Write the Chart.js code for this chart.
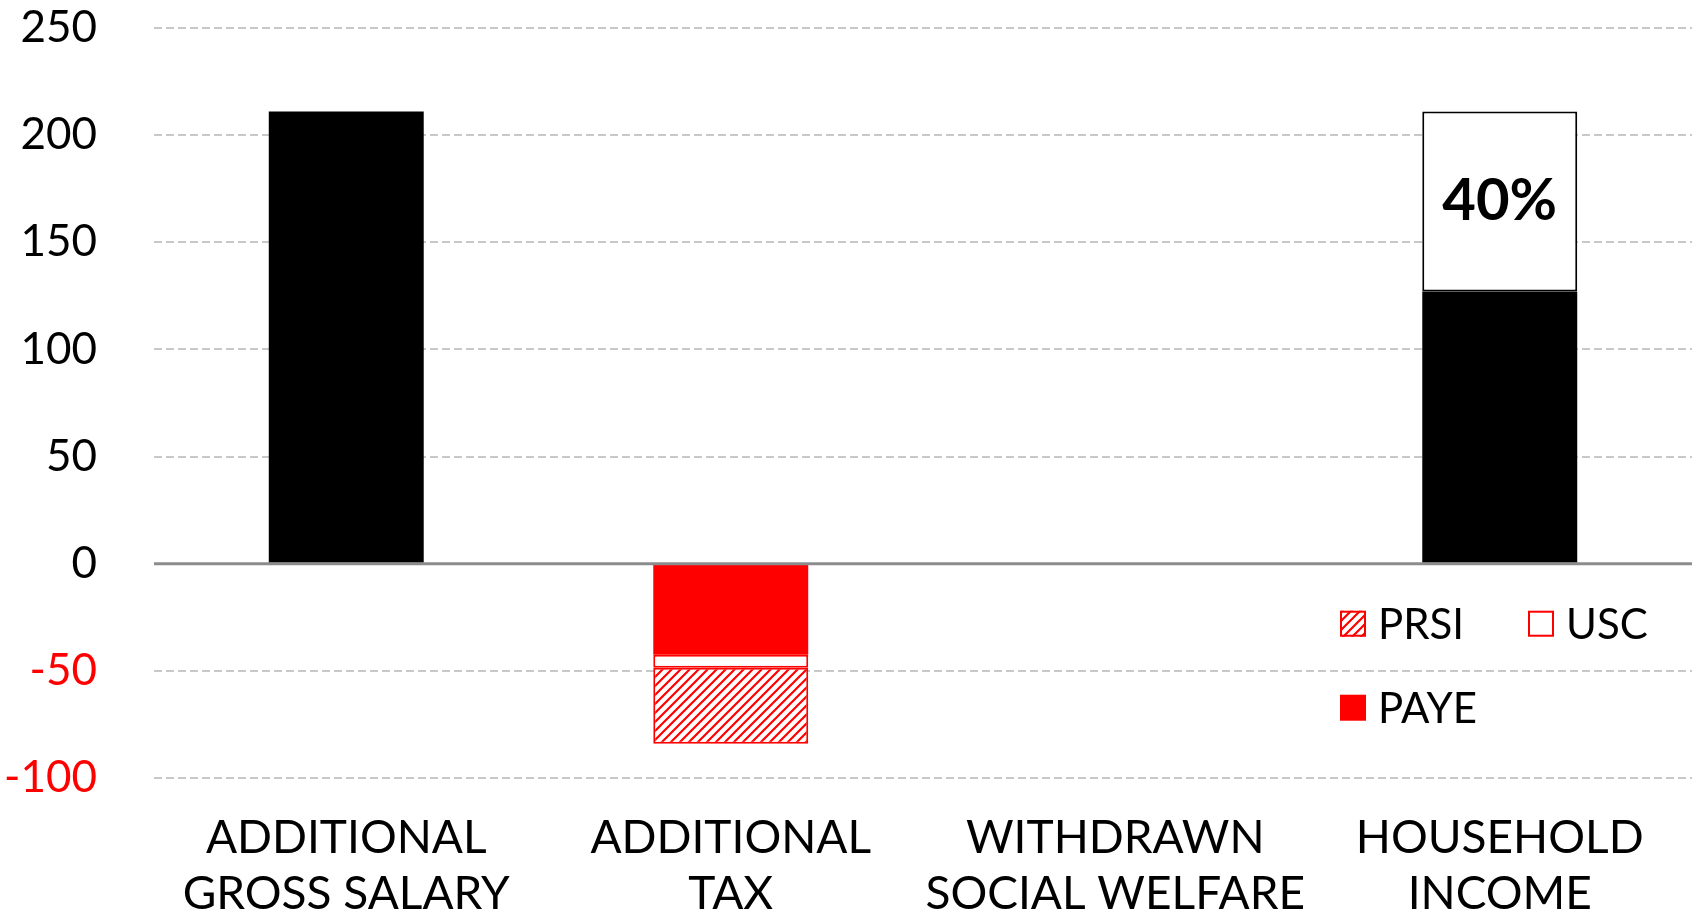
<!DOCTYPE html>
<html>
<head>
<meta charset="utf-8">
<script src="https://cdn.jsdelivr.net/npm/chart.js@4.4.0/dist/chart.umd.min.js"></script>
<style>
  html, body { margin: 0; padding: 0; background: #ffffff; }
  #wrap { width: 1696px; height: 914px; }
</style>
</head>
<body>
<div id="wrap"><canvas id="c" width="1696" height="914"></canvas></div>
<script>
// ---- data ----
const categories = [
  ['ADDITIONAL', 'GROSS SALARY'],
  ['ADDITIONAL', 'TAX'],
  ['WITHDRAWN', 'SOCIAL WELFARE'],
  ['HOUSEHOLD', 'INCOME']
];
const incomeValues   = [211, null, null, 127];   // gross salary / net household income
const taxShareValues = [null, null, null, 84];   // part of gross lost to tax
const payeValues     = [null, -42.5, null, null];
const uscValues      = [null, -6, null, null];
const prsiValues     = [null, -35.5, null, null];
const yTicks = { min: -100, max: 250, step: 50 };

const FONT = 'Lato, "Open Sans", sans-serif';
const RED = '#ff0000';

function makeHatch() {
  const s = 9;
  const p = document.createElement('canvas');
  p.width = s; p.height = s;
  const g = p.getContext('2d');
  g.fillStyle = '#ffffff';
  g.fillRect(0, 0, s, s);
  g.strokeStyle = RED;
  g.lineWidth = 2.2;
  g.beginPath();
  g.moveTo(-1, s + 1); g.lineTo(s + 1, -1);
  g.moveTo(-1, 1); g.lineTo(1, -1);
  g.moveTo(s - 1, s + 1); g.lineTo(s + 1, s - 1);
  g.stroke();
  return document.getElementById('c').getContext('2d').createPattern(p, 'repeat');
}
const hatch = makeHatch();

const zeroLinePlugin = {
  id: 'zeroLine',
  afterDatasetsDraw(chart) {
    const y = chart.scales.y.getPixelForValue(0);
    const ca = chart.chartArea;
    const ctx = chart.ctx;
    ctx.save();
    ctx.strokeStyle = '#8c8c8c';
    ctx.lineWidth = 3;
    ctx.beginPath();
    ctx.moveTo(ca.left, y);
    ctx.lineTo(ca.right, y);
    ctx.stroke();
    ctx.restore();
  }
};

const shareLabelPlugin = {
  id: 'shareLabel',
  afterDatasetsDraw(chart) {
    const idx = 3;
    const meta = chart.getDatasetMeta(1);
    const el = meta.data[idx];
    if (!el) return;
    const pct = Math.round(taxShareValues[idx] / (taxShareValues[idx] + incomeValues[idx]) * 100);
    const ctx = chart.ctx;
    ctx.save();
    ctx.fillStyle = '#000';
    ctx.font = 'bold 58px ' + FONT;
    ctx.textAlign = 'center';
    ctx.textBaseline = 'middle';
    ctx.fillText(pct + '%', el.x, (el.y + el.base) / 2);
    ctx.restore();
  }
};

const legendPlugin = {
  id: 'customLegend',
  afterDraw(chart) {
    const ca = chart.chartArea;
    const zeroY = chart.scales.y.getPixelForValue(0);
    const ctx = chart.ctx;
    const items = [
      { ds: 4, col: 0, row: 0 },
      { ds: 3, col: 1, row: 0 },
      { ds: 2, col: 0, row: 1 }
    ];
    const x0 = ca.right - 352;
    const colW = 188;
    const rowY = [zeroY + 60, zeroY + 144];
    const box = 26;
    ctx.save();
    ctx.font = '42px ' + FONT;
    ctx.textBaseline = 'middle';
    ctx.textAlign = 'left';
    items.forEach(it => {
      const d = chart.data.datasets[it.ds];
      const x = x0 + it.col * colW;
      const y = rowY[it.row];
      ctx.fillStyle = d.backgroundColor;
      ctx.fillRect(x, y - box / 2, box, box);
      if (d.borderWidth) {
        ctx.strokeStyle = d.borderColor;
        ctx.lineWidth = 2;
        ctx.strokeRect(x + 1, y - box / 2 + 1, box - 2, box - 2);
      }
      ctx.fillStyle = '#000';
      ctx.fillText(d.label, x + box + 12, y + 2);
    });
    ctx.restore();
  }
};

new Chart(document.getElementById('c'), {
  type: 'bar',
  data: {
    labels: categories,
    datasets: [
      { label: 'Income', data: incomeValues, backgroundColor: '#000000', borderWidth: 0 },
      { label: 'Tax share', data: taxShareValues, backgroundColor: '#ffffff', borderColor: '#000000', borderWidth: 2 },
      { label: 'PAYE', data: payeValues, backgroundColor: RED, borderWidth: 0 },
      { label: 'USC', data: uscValues, backgroundColor: '#ffffff', borderColor: RED, borderWidth: 2 },
      { label: 'PRSI', data: prsiValues, backgroundColor: hatch, borderColor: RED, borderWidth: 2 }
    ]
  },
  options: {
    responsive: false,
    animation: false,
    devicePixelRatio: 1,
    layout: { padding: { top: 28, right: 4, bottom: 0, left: 0 } },
    datasets: { bar: { barPercentage: 0.403, categoryPercentage: 1, borderSkipped: false } },
    plugins: { legend: { display: false }, tooltip: { enabled: false } },
    scales: {
      x: {
        stacked: true,
        grid: { display: false },
        border: { display: false },
        ticks: { color: '#000', font: { family: FONT, size: 46, lineHeight: 1.2 }, padding: 25, maxRotation: 0, autoSkip: false },
        afterFit(s) { s.height = 136; }
      },
      y: {
        stacked: true,
        min: yTicks.min, max: yTicks.max,
        grid: {
          drawTicks: false,
          color: ctx => ctx.tick && ctx.tick.value === 0 ? 'rgba(0,0,0,0)' : '#c8c8c8',
          lineWidth: 2
        },
        border: { display: false, dash: [8, 4] },
        ticks: {
          stepSize: yTicks.step,
          padding: 57,
          color: ctx => ctx.tick.value < 0 ? RED : '#000',
          font: { family: FONT, size: 44 }
        },
        afterFit(s) { s.width = 154; s.paddingTop = 0; s.paddingBottom = 0; }
      }
    }
  },
  plugins: [zeroLinePlugin, shareLabelPlugin, legendPlugin]
});
</script>
</body>
</html>
